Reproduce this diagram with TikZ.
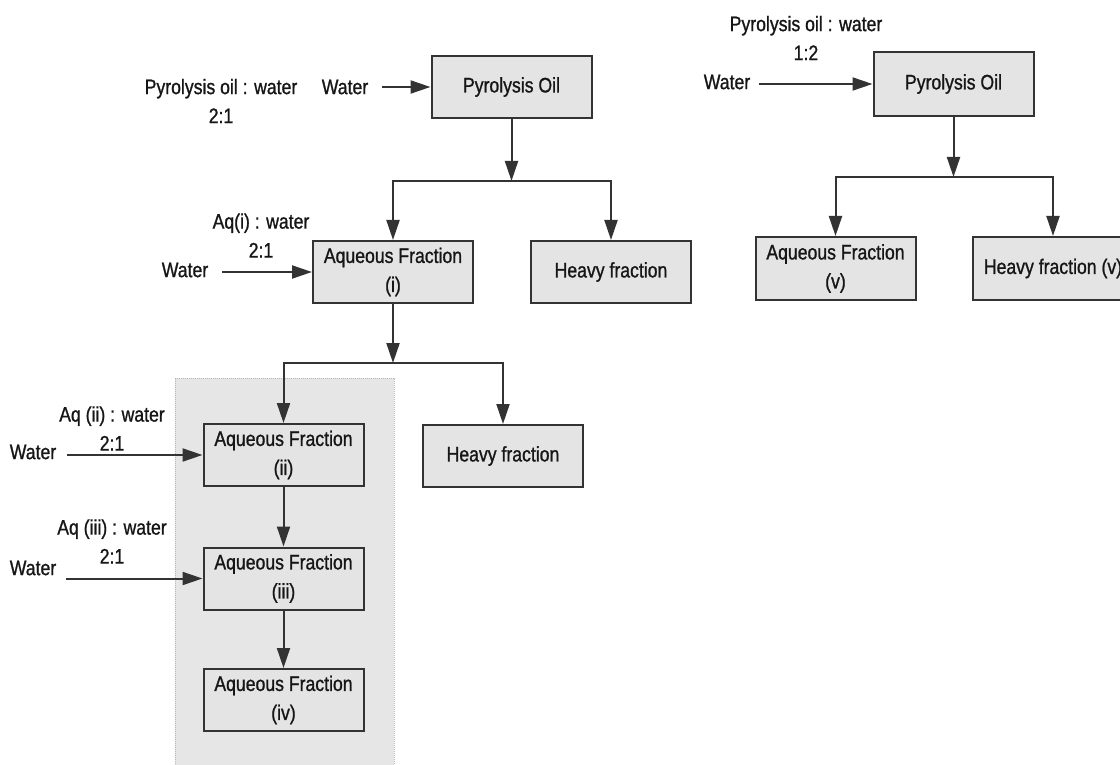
\documentclass[tikz,border=0pt]{standalone}
\usepackage{fontspec}
\setmainfont{Liberation Sans}[FakeStretch=0.84,FakeBold=1]
\usetikzlibrary{arrows.meta}
\definecolor{boxfill}{HTML}{E4E4E4}
\definecolor{regfill}{HTML}{E6E6E6}
\definecolor{edge}{HTML}{333333}
\definecolor{ink}{HTML}{161616}
\begin{document}
\begin{tikzpicture}[x=1pt,y=-1pt,
  every node/.style={font=\fontsize{21}{29}\selectfont, text=ink},
  box/.style={draw=edge, fill=boxfill, line width=2pt, minimum width=160pt, minimum height=62pt, align=center, inner sep=0pt},
  lab/.style={align=center, inner sep=0pt},
  arr/.style={draw=edge, line width=2pt, -{Triangle[length=20pt,width=13pt]}}]
\useasboundingbox (0,0) rectangle (1120,765);
\fill[white] (0,0) rectangle (1120,765);
% shaded region
\fill[regfill] (175,378) rectangle (394,766);
\draw[gray!55, densely dotted, line width=1pt] (175,766) |- (394,378) -- (394,766);

% left tree
\node[box] (po1) at (511.5,87) {Pyrolysis Oil};
\node[lab] (po1l) at (221,101) {Pyrolysis oil : water\\2:1};
\node[lab] (w1) at (345,87) {Water};
\coordinate (s1) at (382,87);
\draw[arr] (s1) -- (po1);
\coordinate (b1) at (511.5,181);
\draw[arr] (po1) -- (b1);
\node[box] (aq1) at (393,272) {Aqueous Fraction\\(i)};
\node[box] (hf1) at (611,272) {Heavy fraction};
\draw[arr] (b1) -| (aq1.north);
\draw[arr] (b1) -| (hf1.north);
\node[lab] (aq1l) at (261,235.5) {Aq(i) : water\\2:1};
\node[lab] (w2) at (185,270) {Water};
\coordinate (s2) at (222,272);
\draw[arr] (s2) -- (aq1);

\coordinate (b2) at (393,363);
\draw[arr] (aq1) -- (b2);
\node[box] (aq2) at (283.5,455) {Aqueous Fraction\\(ii)};
\node[box] (hf2) at (503,456) {Heavy fraction};
\draw[arr] (b2) -| (aq2.north);
\draw[arr] (b2) -| (hf2.north);
\node[lab] (aq2l) at (112,428.5) {Aq (ii) : water\\2:1};
\node[lab] (w3) at (33,452) {Water};
\coordinate (s3) at (67,455);
\draw[arr] (s3) -- (aq2);

\node[box] (aq3) at (283.5,578.5) {Aqueous Fraction\\(iii)};
\draw[arr] (aq2) -- (aq3);
\node[lab] (aq3l) at (112,541.5) {Aq (iii) : water\\2:1};
\node[lab] (w4) at (33,568) {Water};
\coordinate (s4) at (66,578.5);
\draw[arr] (s4) -- (aq3);

\node[box] (aq4) at (283.5,700) {Aqueous Fraction\\(iv)};
\draw[arr] (aq3) -- (aq4);

% right tree
\node[box, minimum height=64pt] (po2) at (953.5,84) {Pyrolysis Oil};
\node[lab] (po2l) at (806,38) {Pyrolysis oil : water\\1:2};
\node[lab] (w5) at (727,82) {Water};
\coordinate (s5) at (759,84);
\draw[arr] (s5) -- (po2);
\coordinate (b5) at (953.5,177);
\draw[arr] (po2) -- (b5);
\node[box, minimum height=63pt] (aq5) at (835.5,268.5) {Aqueous Fraction\\(v)};
\node[box, minimum height=63pt] (hf5) at (1053,268.5) {Heavy fraction (v)};
\draw[arr] (b5) -| (aq5.north);
\draw[arr] (b5) -| (hf5.north);
\end{tikzpicture}
\end{document}
